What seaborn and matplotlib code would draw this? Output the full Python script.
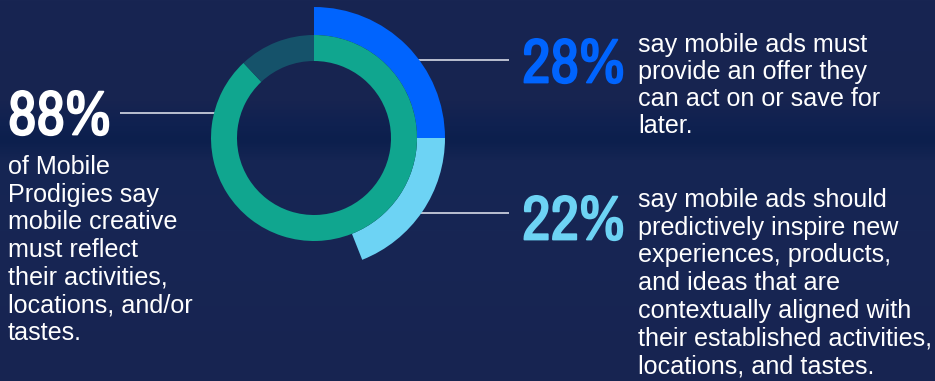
import numpy as np
import matplotlib
matplotlib.use("Agg")
import matplotlib.pyplot as plt
import matplotlib.patheffects as pe
import seaborn as sns
from matplotlib.colors import to_rgb

# ---- data ----
inner_labels = ["Reflect activities/locations/tastes", "Other"]
inner_values = [88, 12]
outer_labels = ["Offer to act on / save", "Predictively inspire"]
outer_values = [25, 19]          # arc extents as drawn in the graphic
stat_texts = ["88%", "28%", "22%"]
left_lines = ["of Mobile", "Prodigies say", "mobile creative", "must reflect",
              "their activities,", "locations, and/or", "tastes."]
right1_lines = ["say mobile ads must", "provide an offer they",
                "can act on or save for", "later."]
right2_lines = ["say mobile ads should", "predictively inspire new",
                "experiences, products,", "and ideas that are",
                "contextually aligned with", "their established activities,",
                "locations, and tastes."]

BG = "#172552"
TEAL = "#10a68f"
DARK_TEAL = "#15526a"
BLUE = "#0064fe"
LIGHT_BLUE = "#6dd3f4"

sns.set_theme(style="dark")
plt.rcParams["font.family"] = ["Liberation Sans", "DejaVu Sans"]

W, H = 935, 381
fig = plt.figure(figsize=(W / 100, H / 100), dpi=100, facecolor=BG)

# background gradient
bg_ax = fig.add_axes([0, 0, 1, 1])
bg_ax.set_axis_off()
stops_y = [0, 100, 125, 140, 160, 230, 381]
stops_c = ["#182552", "#172450", "#0f2150", "#0c1f4d", "#152553", "#172654", "#172451"]
rows = np.zeros((H, 1, 3))
for ch in range(3):
    rows[:, 0, ch] = np.interp(np.arange(H), stops_y, [to_rgb(c)[ch] for c in stops_c])
img = np.repeat(rows, W, axis=1)
bg_ax.imshow(img, aspect="auto", extent=[0, W, H, 0])
bg_ax.set_xlim(0, W)
bg_ax.set_ylim(H, 0)


def px(x, y):
    return x / W, 1 - y / H


# donut axes, 300x300 px, centred on (314,138)
cx, cy = 314, 138
size = 300
ax = fig.add_axes([(cx - size / 2) / W, 1 - (cy + size / 2) / H, size / W, size / H])
ax.set_xlim(-size / 2, size / 2)
ax.set_ylim(-size / 2, size / 2)
ax.set_aspect("equal")
ax.set_axis_off()

outer_full = outer_values + [100 - sum(outer_values)]
ax.pie(outer_full, radius=131, startangle=90, counterclock=False,
       colors=[BLUE, LIGHT_BLUE, (0, 0, 0, 0)],
       wedgeprops=dict(width=28, linewidth=0))
ax.pie(inner_values, radius=103, startangle=90, counterclock=False,
       colors=[TEAL, DARK_TEAL], wedgeprops=dict(width=26, linewidth=0))
ax.set_xlim(-size / 2, size / 2)
ax.set_ylim(-size / 2, size / 2)

# connector lines
for (x0, x1, y) in [(120, 217, 113), (414, 509, 60), (414, 509, 213)]:
    bg_ax.plot([x0, x1], [y, y], color="#d6dae6", lw=1.2, solid_capstyle="butt")

big = dict(family=["Archivo Narrow", "Roboto Condensed", "DejaVu Sans"],
           fontweight="bold", fontsize=45, va="baseline", ha="left")
for (x, y, s, c) in [(8, 134.5, stat_texts[0], "white"),
                     (522, 82.5, stat_texts[1], BLUE),
                     (522, 239.5, stat_texts[2], LIGHT_BLUE)]:
    fig.text(*px(x, y), s, color=c,
             path_effects=[pe.withStroke(linewidth=1.3, foreground=c)], **big)

body = dict(fontsize=18.1, color="white", va="baseline", ha="left")
for i, line in enumerate(left_lines):
    fig.text(*px(8, 174 + i * 27.7), line, **body)
for i, line in enumerate(right1_lines):
    fig.text(*px(638, 51.7 + i * 27.2), line, **body)
for i, line in enumerate(right2_lines):
    fig.text(*px(638, 206.7 + i * 27.8), line, **body)

fig.savefig("out.png", dpi=100, facecolor=BG)
